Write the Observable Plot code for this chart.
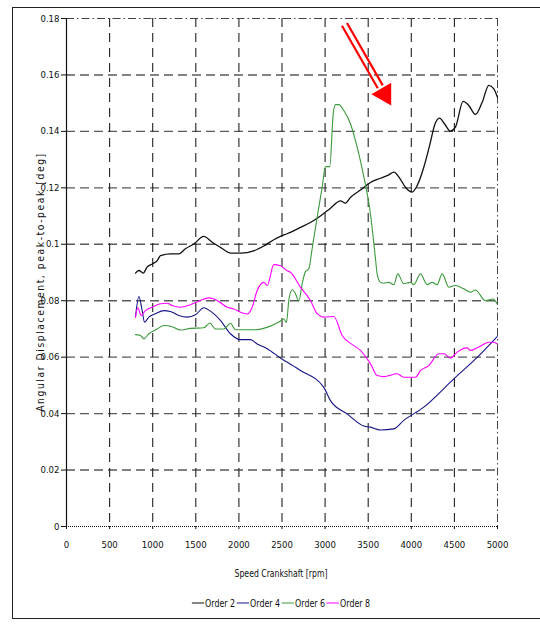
<!DOCTYPE html>
<html>
<head>
<meta charset="utf-8">
<script src="https://cdn.jsdelivr.net/npm/d3@7"></script>
<script src="https://cdn.jsdelivr.net/npm/@observablehq/plot@0.6"></script>
<style>
  html, body { margin: 0; padding: 0; background: #fff; }
  body { width: 540px; height: 624px; position: relative; overflow: hidden;
         font-family: "Liberation Sans Narrow", "Arial Narrow", "DejaVu Sans Condensed", "Liberation Sans", sans-serif; }
  #frame { position: absolute; left: 12px; top: 7px; width: 600px; height: 610px; border: 1.5px solid #222; }
  #chart { position: absolute; left: 0; top: 0; }
  #ylabel { position: absolute; left: 40px; top: 282px; transform: translate(-50%, -50%) rotate(-90deg) scaleX(0.93);
            white-space: nowrap; font-size: 11px; letter-spacing: 1.7px; color: #111; }
  #xlabel { position: absolute; left: 281px; top: 573px; transform: translate(-50%, -50%) scaleX(0.82);
            white-space: nowrap; font-size: 10.5px; color: #111; }
  #legend { position: absolute; left: 281px; top: 603px; transform: translate(-50%, -50%) scaleX(0.88);
            white-space: nowrap; font-size: 10px; color: #111; display: flex; align-items: center; }
  #legend .item { display: flex; align-items: center; margin: 0 1px; }
  #legend .sw { display: inline-block; width: 14px; height: 0; border-top: 1.3px solid; margin-right: 1px; }
</style>
</head>
<body>
<div id="frame"></div>
<div id="chart"></div>
<div id="ylabel"></div>
<div id="xlabel"></div>
<div id="legend"></div>
<script>
// ---- tick labels / axes ----
const xTicks = [0, 500, 1000, 1500, 2000, 2500, 3000, 3500, 4000, 4500, 5000];
const yTicks = [0, 0.02, 0.04, 0.06, 0.08, 0.1, 0.12, 0.14, 0.16, 0.18];
const xTitle = "Speed Crankshaft [rpm]";
const yTitle = "Angular Displacement, peak-to-peak [deg]";

// ---- series ----
const seriesNames = ["Order 2", "Order 4", "Order 6", "Order 8"];
const seriesColors = ["#111111", "#141487", "#3c9a3c", "#ff00ff"];

const order2Rpm = [800, 840, 890, 935, 994, 1052, 1090, 1206, 1303, 1380, 1477, 1593, 1690, 1786, 1902, 2018, 2173, 2289, 2405, 2521, 2598, 2714, 2830, 2946, 3062, 3178, 3236, 3294, 3410, 3526, 3642, 3739, 3797, 3874, 3932, 4010, 4068, 4145, 4222, 4269, 4327, 4385, 4454, 4512, 4601, 4667, 4744, 4822, 4899, 4957, 5000];
const order2Val = [0.0898, 0.0907, 0.0898, 0.0919, 0.0930, 0.0942, 0.0960, 0.0966, 0.0966, 0.0984, 0.1001, 0.1028, 0.1007, 0.0989, 0.0969, 0.0969, 0.0977, 0.0994, 0.1016, 0.1033, 0.1042, 0.1060, 0.1077, 0.1100, 0.1128, 0.1154, 0.1146, 0.1166, 0.1192, 0.1219, 0.1234, 0.1246, 0.1256, 0.1230, 0.1202, 0.1185, 0.1208, 0.1273, 0.1362, 0.1421, 0.1447, 0.1427, 0.1401, 0.1415, 0.1506, 0.1492, 0.1460, 0.1503, 0.1563, 0.1551, 0.1521];

const order4Rpm = [800, 840, 878, 905, 955, 1032, 1129, 1206, 1303, 1400, 1496, 1593, 1670, 1786, 1902, 2018, 2134, 2212, 2328, 2482, 2714, 2985, 3062, 3256, 3450, 3526, 3642, 3797, 3913, 4145, 4493, 4764, 4996];
const order4Val = [0.0742, 0.0815, 0.0765, 0.0724, 0.0742, 0.0754, 0.0765, 0.0762, 0.0748, 0.0742, 0.0750, 0.0775, 0.0763, 0.0730, 0.0683, 0.0662, 0.0662, 0.0647, 0.0630, 0.0597, 0.0553, 0.0493, 0.0446, 0.0399, 0.0356, 0.0352, 0.0342, 0.0346, 0.0376, 0.0423, 0.0523, 0.0599, 0.0673];

const order6Rpm = [800, 858, 897, 955, 1052, 1129, 1225, 1322, 1438, 1593, 1663, 1728, 1825, 1902, 1960, 2173, 2366, 2482, 2521, 2552, 2579, 2618, 2656, 2695, 2734, 2772, 2811, 2850, 2908, 2966, 3004, 3054, 3094, 3120, 3159, 3217, 3294, 3372, 3450, 3526, 3584, 3604, 3640, 3681, 3739, 3797, 3843, 3913, 3990, 4029, 4106, 4184, 4242, 4300, 4358, 4435, 4512, 4609, 4686, 4744, 4860, 4949, 4996];
const order6Val = [0.0680, 0.0677, 0.0665, 0.0683, 0.0700, 0.0712, 0.0708, 0.0696, 0.0702, 0.0704, 0.0721, 0.0700, 0.0700, 0.0720, 0.0697, 0.0697, 0.0710, 0.0728, 0.0735, 0.0723, 0.0801, 0.0839, 0.0825, 0.0798, 0.0860, 0.0903, 0.0913, 0.0985, 0.1096, 0.1202, 0.1275, 0.1275, 0.1462, 0.1495, 0.1495, 0.1474, 0.1427, 0.1344, 0.1238, 0.1108, 0.0950, 0.0895, 0.0866, 0.0862, 0.0865, 0.0857, 0.0895, 0.0860, 0.0865, 0.0857, 0.0895, 0.0857, 0.0865, 0.0857, 0.0895, 0.0848, 0.0854, 0.0842, 0.0830, 0.0838, 0.0800, 0.0806, 0.0788];

const order8Rpm = [800, 827, 866, 916, 994, 1090, 1168, 1225, 1322, 1438, 1554, 1651, 1748, 1864, 1941, 2018, 2096, 2154, 2212, 2289, 2328, 2405, 2482, 2560, 2598, 2714, 2830, 2908, 2985, 3101, 3198, 3333, 3410, 3488, 3526, 3604, 3681, 3836, 3913, 4048, 4106, 4203, 4319, 4377, 4454, 4532, 4648, 4686, 4783, 4899, 4957, 4996];
const order8Val = [0.0742, 0.0775, 0.0748, 0.0765, 0.0777, 0.0789, 0.0791, 0.0783, 0.0777, 0.0786, 0.0801, 0.0810, 0.0801, 0.0777, 0.0771, 0.0759, 0.0753, 0.0777, 0.0836, 0.0865, 0.0854, 0.0928, 0.0924, 0.0906, 0.0901, 0.0848, 0.0801, 0.0754, 0.0742, 0.0744, 0.0677, 0.0641, 0.0624, 0.0594, 0.0577, 0.0535, 0.0531, 0.0541, 0.0529, 0.0529, 0.0552, 0.0570, 0.0612, 0.0612, 0.0597, 0.0618, 0.0633, 0.0624, 0.0636, 0.0653, 0.0653, 0.0647];

// ---- annotation arrow (data units) ----
const arrowTail = {rpm: 3225, val: 0.1779};
const arrowNeck = {rpm: 3640, val: 0.1558};
const arrowHead = {rpm: 3690, val: 0.1532};

// ---- build table ----
const rpmLists = [order2Rpm, order4Rpm, order6Rpm, order8Rpm];
const valLists = [order2Val, order4Val, order6Val, order8Val];
const rows = [];
seriesNames.forEach((name, i) => {
  rpmLists[i].forEach((r, j) => rows.push({series: name, rpm: r, val: valLists[i][j]}));
});

const innerX = xTicks.slice(1, -1);
const innerY = yTicks.slice(1, -1);
const fontFam = getComputedStyle(document.body).fontFamily;

const chart = Plot.plot({
  width: 540,
  height: 560,
  marginLeft: 66,
  marginRight: 43,
  marginTop: 18,
  marginBottom: 34,
  style: {fontFamily: fontFam, fontSize: "9.5px", background: "transparent", color: "#111", overflow: "visible"},
  x: {domain: [0, 5000], ticks: xTicks, tickFormat: d => String(d), tickSize: 3, tickPadding: 12, label: null},
  y: {domain: [0, 0.18], ticks: yTicks, tickFormat: d => String(d), tickSize: 5, tickPadding: 2, label: null},
  color: {domain: seriesNames, range: seriesColors},
  marks: [
    Plot.ruleY(innerY, {stroke: "#5a5a5a", strokeWidth: 1.4, strokeDasharray: "9,5"}),
    Plot.ruleX(innerX, {stroke: "#222", strokeWidth: 1.1, strokeDasharray: "9,6"}),
    Plot.ruleY([yTicks[yTicks.length - 1]], {stroke: "#444", strokeWidth: 1, strokeDasharray: "8,3,1.5,3"}),
    Plot.ruleX([xTicks[xTicks.length - 1]], {stroke: "#444", strokeWidth: 1, strokeDasharray: "8,3,1.5,3"}),
    Plot.ruleX([xTicks[0]], {stroke: "#111", strokeWidth: 1.2}),
    Plot.ruleY([yTicks[0]], {stroke: "#111", strokeWidth: 1, strokeDasharray: "1,1"}),
    Plot.line(rows, {x: "rpm", y: "val", z: "series", stroke: "series",
      strokeWidth: d => d.series === "Order 2" ? 1.3 : 1.1, curve: "monotone-x"}),
    Plot.link([{}], {x1: () => arrowTail.rpm, y1: () => arrowTail.val, x2: () => arrowNeck.rpm, y2: () => arrowNeck.val,
      stroke: "#ff0000", strokeWidth: 2.2, dx: 2.5, dy: -1.4}),
    Plot.link([{}], {x1: () => arrowTail.rpm, y1: () => arrowTail.val, x2: () => arrowNeck.rpm, y2: () => arrowNeck.val,
      stroke: "#ff0000", strokeWidth: 2.2, dx: -2.5, dy: 1.4}),
    Plot.dot([arrowHead], {x: "rpm", y: "val", symbol: "triangle", r: 8.5, fill: "#ff0000", stroke: "none", rotate: 150})
  ]
});
document.getElementById("chart").appendChild(chart);

document.getElementById("ylabel").textContent = yTitle;
document.getElementById("xlabel").textContent = xTitle;
const legend = document.getElementById("legend");
seriesNames.forEach((n, i) => {
  const it = document.createElement("span");
  it.className = "item";
  const sw = document.createElement("span");
  sw.className = "sw";
  sw.style.borderTopColor = seriesColors[i];
  it.appendChild(sw);
  it.appendChild(document.createTextNode(n));
  legend.appendChild(it);
});
</script>
</body>
</html>
